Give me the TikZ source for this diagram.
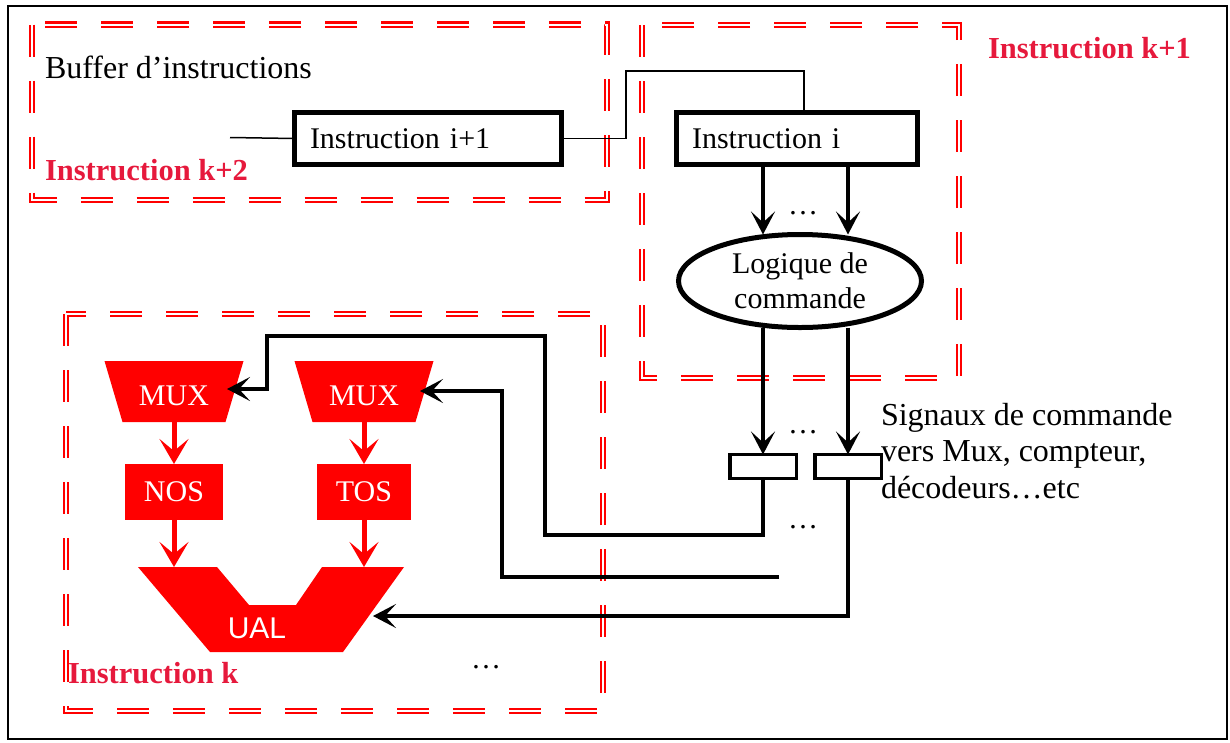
\documentclass[tikz,border=0pt]{standalone}
\usepackage{fontspec}
\setmainfont{Liberation Serif}
\newfontfamily\ualfont{Liberation Sans}
\usetikzlibrary{arrows.meta,shapes.geometric,calc}
\definecolor{lblred}{RGB}{230,25,60}
\begin{document}
\begin{tikzpicture}[x=1pt,y=-1pt,
  every node/.style={inner sep=0pt, outer sep=0pt},
  txt/.style={font=\fontsize{30}{35}\selectfont},
  bigtxt/.style={font=\fontsize{32}{37}\selectfont},
  lbl/.style={font=\fontsize{30.5}{35}\selectfont\bfseries, text=lblred},
  instbox/.style={draw, line width=5pt, minimum height=52pt, align=left, inner xsep=15.5pt, txt},
  sigbox/.style={draw, line width=3.5pt, minimum width=66.5pt, minimum height=24pt},
  zone/.style={draw=red, line width=2.3pt, double=white, double distance=2pt, dash pattern=on 32pt off 24pt},
  wire/.style={line width=3.5pt, -{Stealth[length=23pt,width=24pt,inset=11pt]}},
  redarrow/.style={red, line width=5pt, -{Stealth[length=25pt,width=29pt,inset=12pt]}},
  thinwire/.style={line width=1.5pt},
  redblock/.style={fill=red, txt, text=white},
]
\useasboundingbox (0,0) rectangle (1230,742);
% outer frame
\draw[line width=2pt] (8,6) rectangle (1227,739);
% zones
\draw[zone] (32,24.5) rectangle (607,200);
\draw[zone] (642,25) rectangle (959,378);
\draw[zone] (66,314) rectangle (603,711);
% zone labels
\node[bigtxt, anchor=base west] (buf) at (45,78) {Buffer d’instructions};
\node[lbl, anchor=base west] (lk2) at (45,180) {Instruction k+2};
\node[lbl, anchor=base west] (lk1) at (988,58) {Instruction k+1};
\node[lbl, anchor=base west] (lk) at (68,683) {Instruction k};
% instruction buffer
\node[instbox, text width=236pt] (i1) at (428,138.5) {Instruction i+1};
\node[instbox, text width=210pt] (ii) at (797,138.5) {Instruction i};
\coordinate (bufin) at (230,137.5);
\draw[thinwire] (bufin) -- (i1.west);
\draw[thinwire] (i1.east) -| (626,71) -| ($(ii.north)+(7,0)$);
% control logic
\node[draw, ellipse, line width=5pt, minimum width=243pt, minimum height=93pt, align=center, txt] (ell) at (800,281) {Logique de\\commande};
\node[sigbox] (sb1) at (763,466.5) {};
\node[sigbox] (sb2) at (848,466.5) {};
\draw[wire] (ii.south -| sb1) -- (ell.north -| sb1);
\draw[wire] (ii.south -| sb2) -- (ell.north -| sb2);
\draw[wire] (ell.south -| sb1) -- (sb1.north);
\draw[wire] (ell.south -| sb2) -- (sb2.north);
\node[txt, anchor=base] (d1) at (803,214) {…};
\node[txt, anchor=base] (d2) at (803,433) {…};
\node[txt, anchor=base] (d3) at (803,528) {…};
\node[txt, anchor=base] (d4) at (486,668) {…};
\node[font=\fontsize{32}{36.5}\selectfont, anchor=base west, align=left] (sig) at (881,498) {Signaux de commande\\vers Mux, compteur,\\décodeurs…etc};
% datapath
\fill[red] (104.5,361) -- (243.5,361) -- (225.5,422) -- (122.5,422) -- cycle;
\fill[red] (294.5,361) -- (433.5,361) -- (415.5,422) -- (312.5,422) -- cycle;
\node[txt, text=white, minimum width=103pt, minimum height=52pt] (mux1) at (174,396) {MUX};
\node[txt, text=white, minimum width=103pt, minimum height=52pt] (mux2) at (364,396) {MUX};
\node[redblock, minimum width=98pt, minimum height=56pt] (nos) at (174,492) {NOS};
\node[redblock, minimum width=94pt, minimum height=56pt] (tos) at (364,492) {TOS};
\fill[red] (138,567) -- (217,567) -- (249,605) -- (296,605) -- (322,567) -- (404,567) -- (343,652) -- (210,652) -- cycle;
\node[font=\ualfont\fontsize{30}{36}\selectfont, text=white] (ual) at (257,628) {UAL};
\coordinate (ual1) at (174,567);
\coordinate (ual2) at (364,567);
\draw[redarrow] (mux1.south) -- (nos.north);
\draw[redarrow] (mux2.south) -- (tos.north);
\draw[redarrow] (nos.south) -- (ual1);
\draw[redarrow] (tos.south) -- (ual2);
% control wires
\coordinate (m1in) at (227,389);
\coordinate (m2in) at (420,391);
\coordinate (ualin) at (373,616);
\coordinate (w2start) at (779,577);
\draw[wire] (sb1.south) |- (545,535) |- (267,336) |- (m1in);
\draw[wire] (w2start) -| (502,391) -- (m2in);
\draw[wire] (sb2.south) |- (ualin);
\end{tikzpicture}
\end{document}
